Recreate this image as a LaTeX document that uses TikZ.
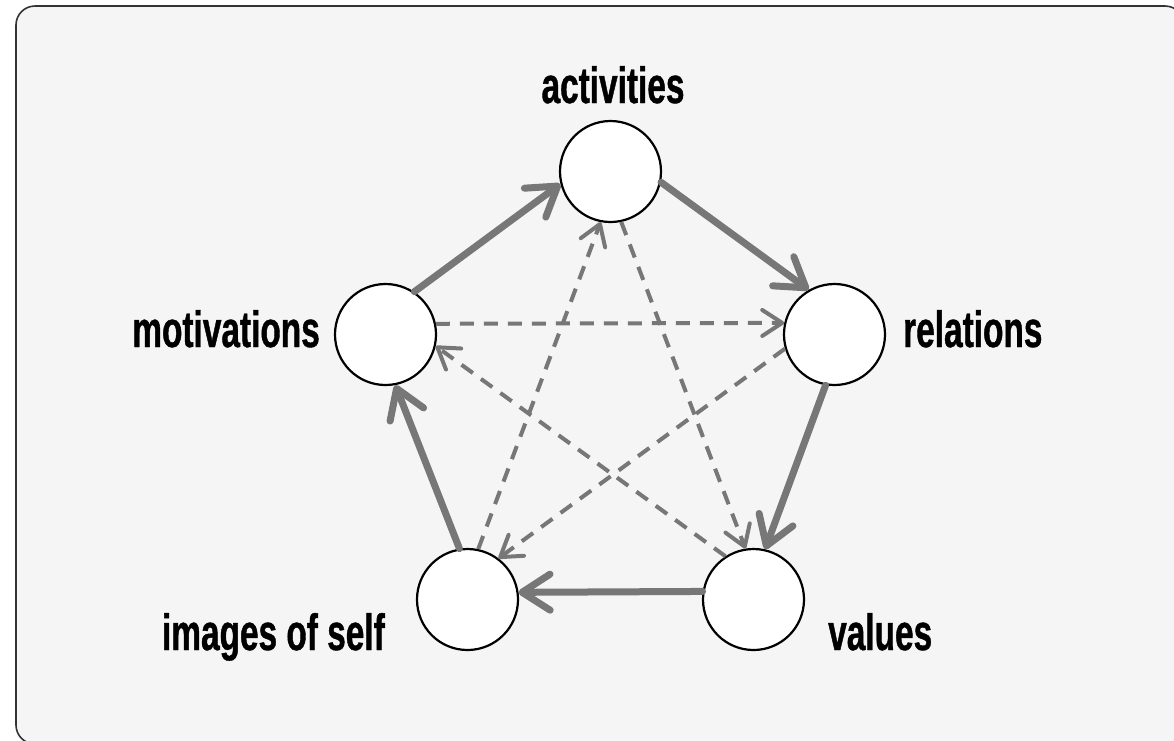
\documentclass[tikz,border=0pt]{standalone}
\usepackage{fontspec}
\newfontfamily\lblfont[FakeStretch=0.655,FakeBold=0.8]{Liberation Sans}
\usetikzlibrary{arrows.meta}
\definecolor{bg}{HTML}{F5F5F5}
\definecolor{arr}{HTML}{777777}
\definecolor{framec}{HTML}{333333}
\begin{document}
\begin{tikzpicture}[x=1pt,y=-1pt,
  state/.style={circle,draw=black,fill=white,line width=2.2pt,minimum size=101pt,inner sep=0pt},
  lbl/.style={font={\lblfont\bfseries\fontsize{51}{53}\selectfont},inner sep=0pt,text=black},
  main/.style={draw=arr,line width=7pt,line cap=round,-{Straight Barb[length=28pt,width=36pt,line cap=round,line join=round]}},
  aux/.style={draw=arr,line width=4pt,dash pattern=on 14pt off 10pt,-{Straight Barb[length=20pt,width=26pt,line cap=round,line join=round]}}]
\useasboundingbox (0,0) rectangle (1174,740);
\clip (0,0) rectangle (1174,740);
\draw[framec,fill=bg,line width=1.6pt,rounded corners=19pt] (16,6) rectangle (1184,744);

\node[state] (a) at (610.5,171.5) {};
\node[state] (m) at (385.5,334.5) {};
\node[state] (r) at (834.5,334.5) {};
\node[state] (i) at (467.5,599.5) {};
\node[state] (v) at (753.5,599.5) {};

\node[lbl,anchor=base] (la) at (613,103) {activities};
\node[lbl,anchor=base east] (lm) at (320,347) {motivations};
\node[lbl,anchor=base west] (lr) at (903,347) {relations};
\node[lbl,anchor=base east] (li) at (385,650) {images of self};
\node[lbl,anchor=base west] (lv) at (828,650) {values};

\draw[aux] (m.12.9) -- (r.167.1);
\draw[aux] (r.196) -- (i.53.9);
\draw[aux] (i.78.5) -- (a.259.4);
\draw[aux] (a.282.8) -- (v.99.4);
\draw[aux] (v.123.6) -- (m.-13.6);

\draw[main] (m.56.5) -- (a.194.2);
\draw[main] (a.-12.6) -- (r.120.6);
\draw[main] (r.260.6) -- (v.77.4);
\draw[main] (v.171.7) -- (i.8.3);
\draw[main] (i.99.7) -- (m.281.5);
\end{tikzpicture}
\end{document}
